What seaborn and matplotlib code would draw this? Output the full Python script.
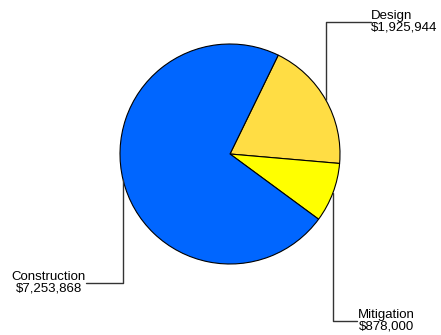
import numpy as np
import matplotlib
matplotlib.use("Agg")
import matplotlib.pyplot as plt
import seaborn as sns

categories = ["Design", "Mitigation", "Construction"]
amounts = [1925944, 878000, 7253868]
colors = ["#FFDD44", "#FFFF00", "#0066FF"]

sns.set_style("white")
plt.rcParams["font.family"] = ["Liberation Sans", "DejaVu Sans"]

fig = plt.figure(figsize=(4.41, 3.35), dpi=100)
ax = fig.add_axes([0, 0, 1, 1])

wedges, _ = ax.pie(amounts, colors=colors, startangle=64, counterclock=False,
                   radius=1, center=(0, 0), frame=True,
                   wedgeprops=dict(edgecolor="black", linewidth=0.8))
ax.set_xlim(-230 / 110, 211 / 110)
ax.set_ylim(-181 / 110, 154 / 110)
ax.set_aspect("auto")
ax.axis("off")

# leader line layout: (elbow y, label end x, text alignment)
layout = {
    "Design": (1.2, 1.28, "left", "left"),
    "Mitigation": (-1.518, 1.155, "left", "center"),
    "Construction": (-1.172, -1.305, "right", "center"),
}

for w, name, val in zip(wedges, categories, amounts):
    mid = np.deg2rad((w.theta1 + w.theta2) / 2)
    x0, y0 = np.cos(mid), np.sin(mid)
    ey, ex, ha, ma = layout[name]
    ax.plot([x0, x0, ex], [y0, ey, ey], color="#333333", lw=1, clip_on=False)
    ax.text(ex + (0.005 if ha == "left" else -0.005), ey, f"{name}\n${val:,}",
            ha=ha, va="center", multialignment=ma, fontsize=9.5,
            linespacing=1.0, color="black")

fig.savefig("out.png", dpi=100)
